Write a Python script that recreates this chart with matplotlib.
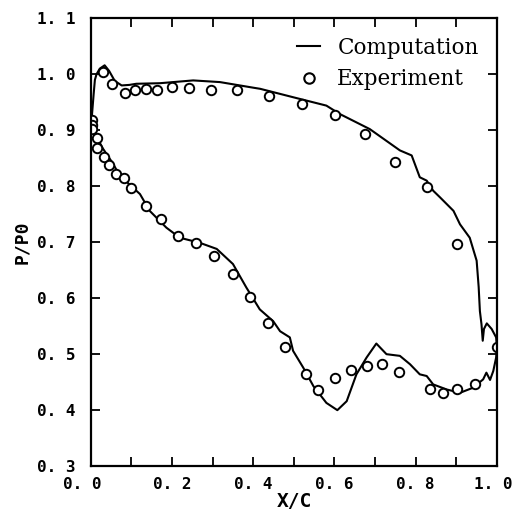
import numpy as np
import matplotlib
matplotlib.use('Agg')
import matplotlib.pyplot as plt
import matplotlib.transforms as mtransforms
from matplotlib.lines import Line2D

# computation, upper surface (leading edge -> trailing edge)
x_comp_up = [0.0, 0.003, 0.007, 0.010, 0.014, 0.022, 0.034, 0.045, 0.059, 0.076, 0.095,
             0.112, 0.17, 0.252, 0.318, 0.40, 0.417, 0.498, 0.580, 0.613, 0.687, 0.761,
             0.790, 0.810, 0.827, 0.843, 0.860, 0.893, 0.909, 0.933, 0.950, 0.955,
             0.958, 0.962, 0.965, 0.968, 0.975, 0.987, 0.998, 1.0]
cp_comp_up = [0.910, 0.929, 0.965, 0.990, 1.000, 1.010, 1.016, 1.006, 0.988, 0.980, 0.981,
              0.983, 0.984, 0.989, 0.986, 0.976, 0.974, 0.959, 0.944, 0.929, 0.902, 0.864,
              0.855, 0.816, 0.810, 0.792, 0.780, 0.756, 0.732, 0.708, 0.667, 0.620,
              0.577, 0.553, 0.524, 0.545, 0.555, 0.545, 0.530, 0.512]

# computation, lower surface
x_comp_lo = [0.0, 0.006, 0.030, 0.055, 0.076, 0.088, 0.121, 0.145, 0.186, 0.219, 0.268,
             0.310, 0.350, 0.383, 0.416, 0.449, 0.466, 0.490, 0.498, 0.523, 0.548, 0.580,
             0.607, 0.630, 0.654, 0.679, 0.703, 0.728, 0.761, 0.786, 0.810, 0.827, 0.843,
             0.876, 0.909, 0.941, 0.966, 0.974, 0.983, 0.991, 0.998, 1.0]
cp_comp_lo = [0.910, 0.899, 0.867, 0.840, 0.812, 0.808, 0.786, 0.756, 0.726, 0.708, 0.699,
              0.688, 0.661, 0.619, 0.580, 0.559, 0.541, 0.530, 0.506, 0.476, 0.443, 0.413,
              0.400, 0.416, 0.464, 0.494, 0.519, 0.500, 0.497, 0.482, 0.464, 0.461, 0.446,
              0.437, 0.431, 0.440, 0.455, 0.467, 0.454, 0.470, 0.494, 0.512]

# experiment
x_exp = [0.002, 0.003, 0.004, 0.014, 0.016, 0.033, 0.045, 0.063, 0.082, 0.099, 0.135,
         0.174, 0.215, 0.260, 0.303, 0.350, 0.393, 0.437, 0.478, 0.531, 0.560, 0.601,
         0.640, 0.680, 0.718, 0.759, 0.835, 0.868, 0.901, 0.947,
         0.029, 0.052, 0.085, 0.108, 0.135, 0.163, 0.201, 0.242, 0.295, 0.360, 0.439,
         0.521, 0.601, 0.675, 0.749, 0.827, 0.901, 1.0]
cp_exp = [0.918, 0.910, 0.902, 0.887, 0.869, 0.853, 0.838, 0.822, 0.814, 0.797, 0.765,
          0.742, 0.711, 0.698, 0.676, 0.643, 0.602, 0.555, 0.513, 0.465, 0.436, 0.458,
          0.471, 0.479, 0.482, 0.469, 0.438, 0.431, 0.437, 0.446,
          1.004, 0.982, 0.966, 0.972, 0.974, 0.971, 0.978, 0.976, 0.972, 0.972, 0.962,
          0.947, 0.927, 0.894, 0.843, 0.799, 0.697, 0.512]

mono = 'DejaVu Sans Mono'

fig = plt.figure(figsize=(5.22, 5.22), dpi=100)
ax = fig.add_axes([0.174, 0.107, 0.778, 0.858])

ax.plot(x_comp_up, cp_comp_up, color='black', lw=1.5)
ax.plot(x_comp_lo, cp_comp_lo, color='black', lw=1.5)
ax.plot(x_exp, cp_exp, 'o', mfc='white', mec='black', ms=6.8, mew=1.4)

ax.set_xlim(0.0, 1.0)
ax.set_ylim(0.3, 1.1)

xt = np.arange(0.0, 1.01, 0.2)
ax.set_xticks(xt)
ax.set_xticks(np.arange(0.1, 1.0, 0.2), minor=True)
ax.set_xticklabels([f"{v:.1f}".replace('.', '. ') for v in xt],
                   fontfamily=mono, fontweight='bold', fontsize=11.5)
yt = np.arange(0.3, 1.11, 0.1)
ax.set_yticks(yt)
ax.set_yticklabels([f"{v:.1f}".replace('.', '. ') for v in yt],
                   fontfamily=mono, fontweight='bold', fontsize=11.5)

ax.tick_params(which='both', direction='in', top=True, right=True,
               length=6.5, width=1.3)
ax.tick_params(axis='x', pad=8)
ax.tick_params(axis='y', pad=11)
for s in ax.spines.values():
    s.set_linewidth(1.6)

# first and last x labels sit a little to the left in the original
xlabs = ax.get_xticklabels()
xlabs[0].set_transform(xlabs[0].get_transform() +
                       mtransforms.ScaledTranslation(-9 / 100, 0, fig.dpi_scale_trans))
xlabs[-1].set_transform(xlabs[-1].get_transform() +
                        mtransforms.ScaledTranslation(-4 / 100, 0, fig.dpi_scale_trans))

ax.set_xlabel('X/C', fontfamily=mono, fontweight='bold', fontsize=14, labelpad=0)
ax.set_ylabel('P/P0', fontfamily=mono, fontweight='bold', fontsize=13, labelpad=4)

handles = [Line2D([], [], color='black', lw=1.5),
           Line2D([], [], ls='none', marker='o', mfc='white', mec='black', ms=7.5, mew=1.5)]
ax.legend(handles, ['Computation', 'Experiment'], loc='upper right', frameon=False,
          prop={'family': 'DejaVu Serif', 'size': 15.5}, handlelength=1.05,
          handletextpad=0.8, labelspacing=0.45, borderaxespad=0.45)

fig.savefig('out.png', dpi=100)
